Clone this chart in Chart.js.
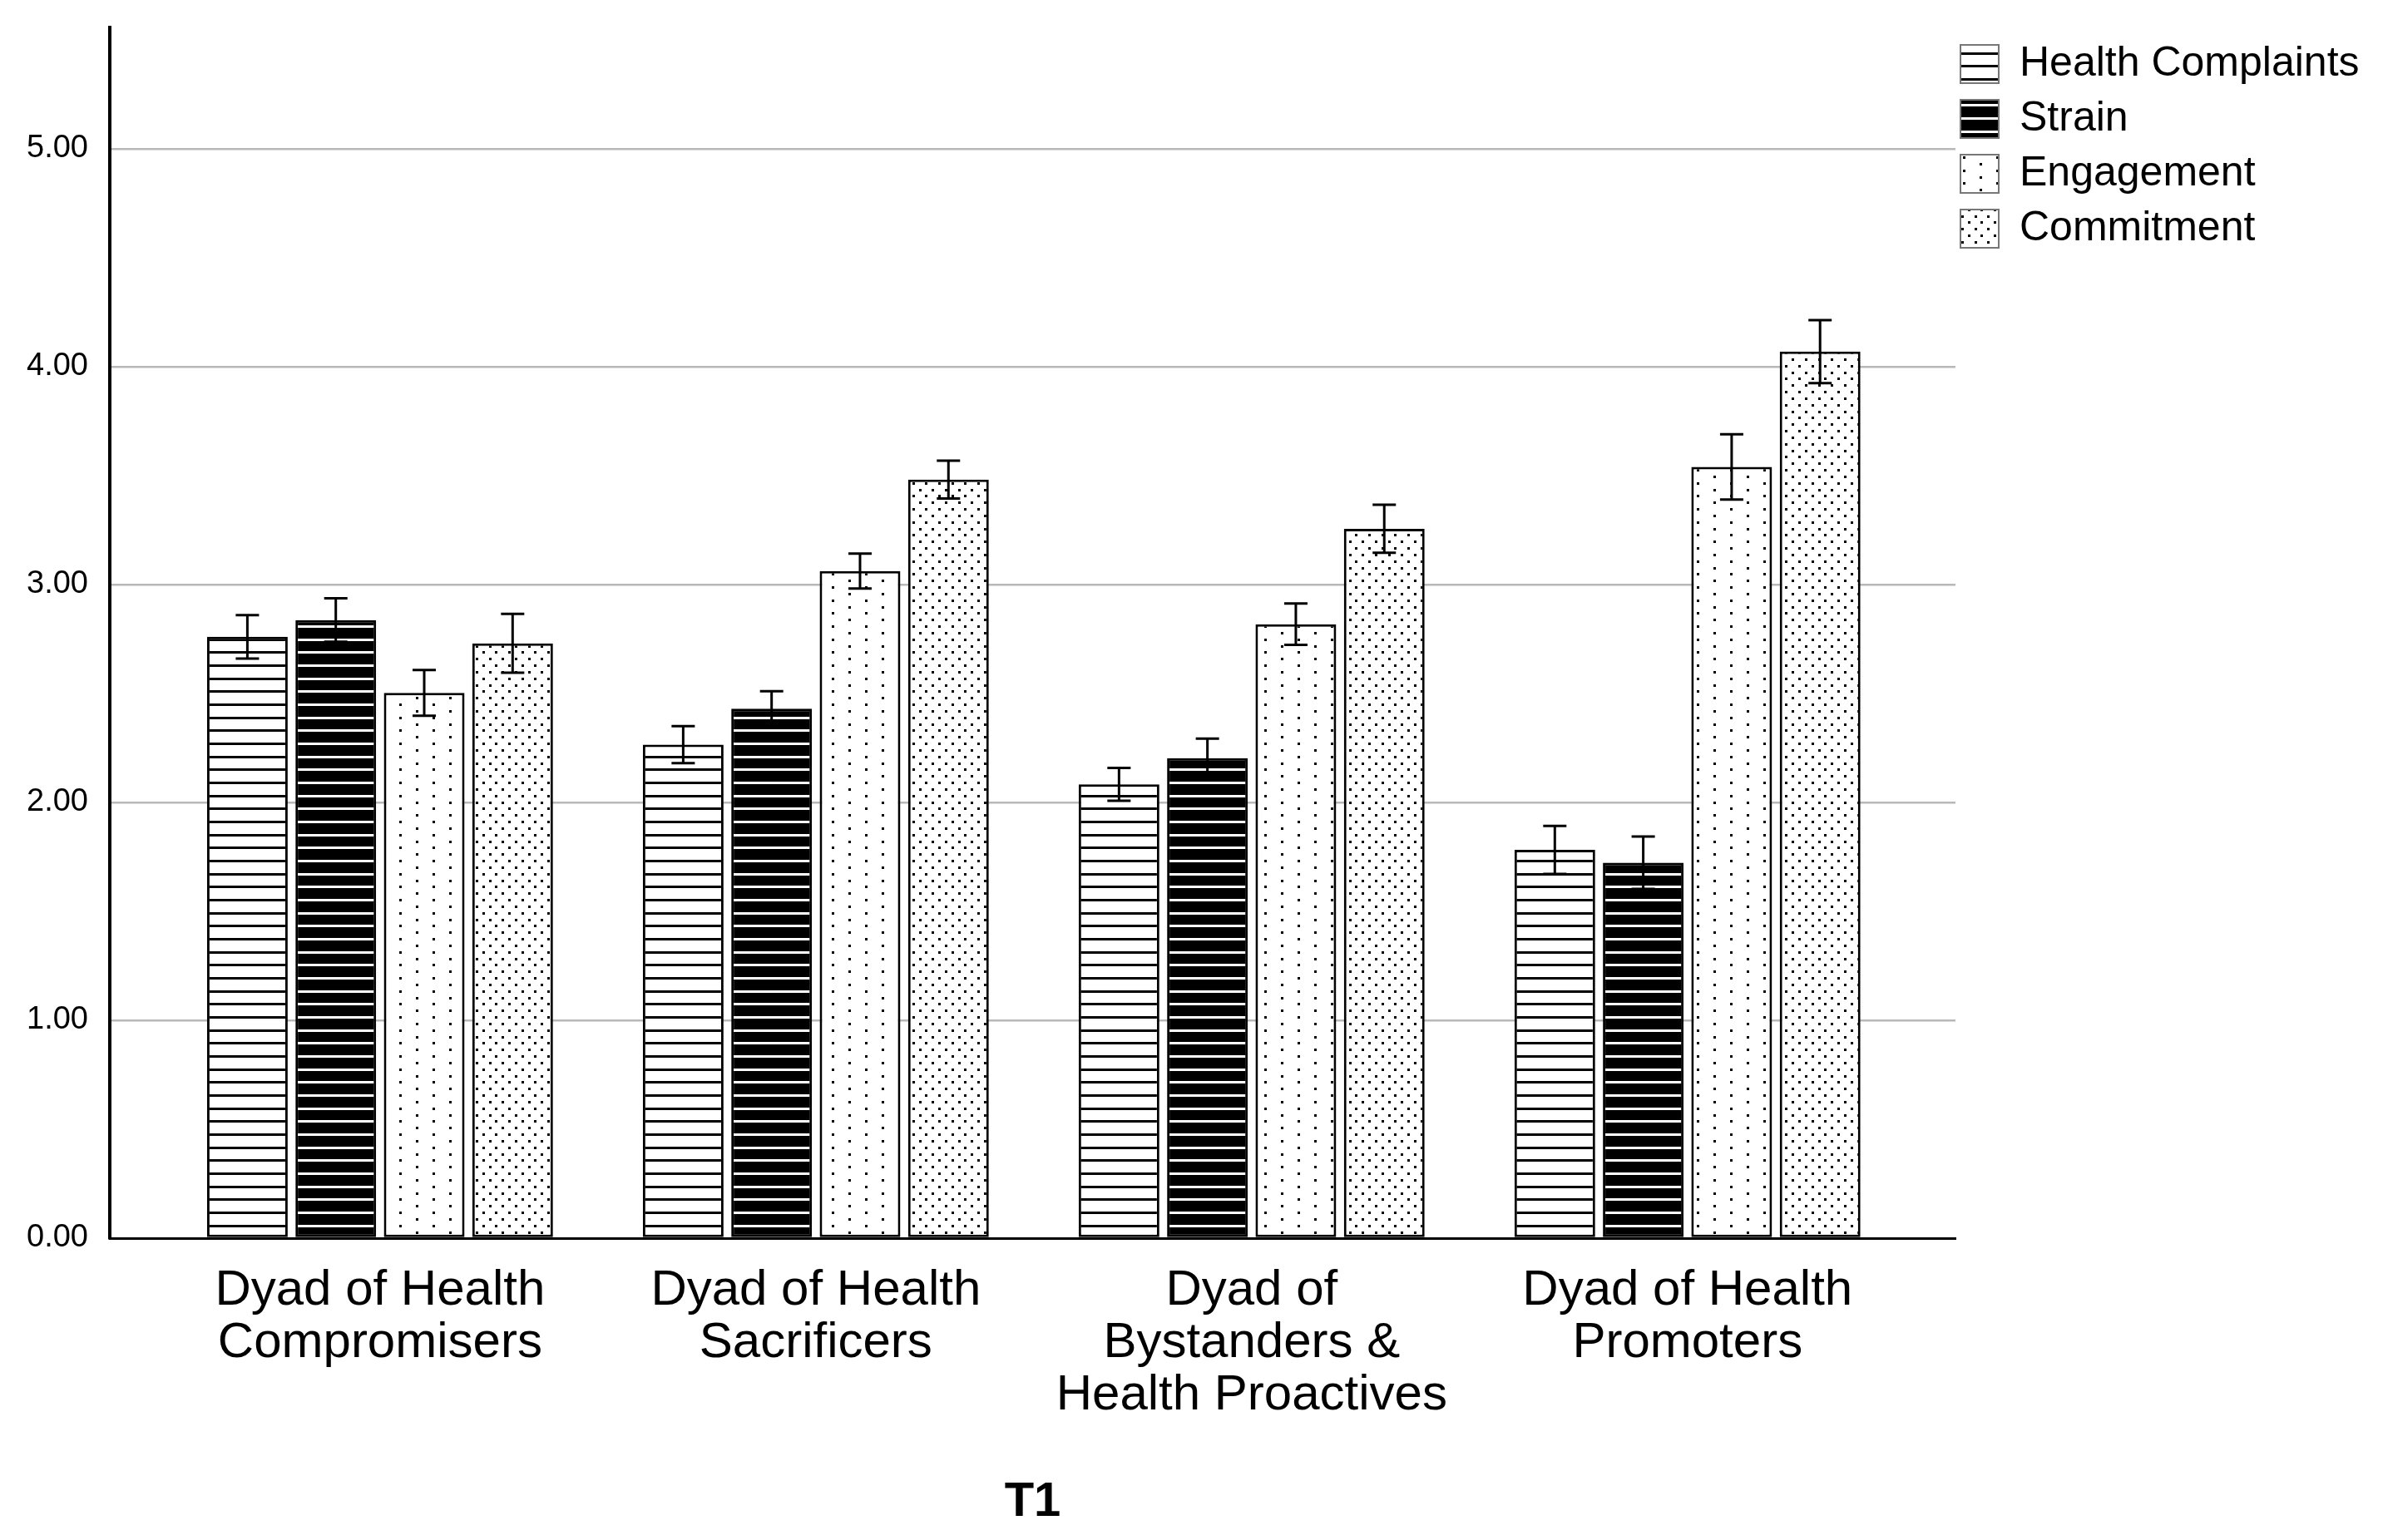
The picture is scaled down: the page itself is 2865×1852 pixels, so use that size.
<!DOCTYPE html>
<html>
<head>
<meta charset="utf-8">
<script src="https://cdn.jsdelivr.net/npm/chart.js@4.4.1/dist/chart.umd.min.js"></script>
<style>
html, body { margin: 0; padding: 0; background: #fff; }
#wrap { width: 2865px; height: 1852px; }
</style>
</head>
<body>
<div id="wrap"><canvas id="chart" width="2865" height="1852"></canvas></div>
<script>
// categories (multi-line tick labels)
const groups = [
	["Dyad of Health", "Compromisers"],
	["Dyad of Health", "Sacrificers"],
	["Dyad of", "Bystanders &", "Health Proactives"],
	["Dyad of Health", "Promoters"]
];
const seriesNames = ["Health Complaints", "Strain", "Engagement", "Commitment"];

// means
const healthComplaints = [2.76, 2.265, 2.083, 1.782];
const strain = [2.837, 2.43, 2.203, 1.723];
const engagement = [2.503, 3.062, 2.818, 3.54];
const commitment = [2.73, 3.482, 3.256, 4.069];

// error bar half widths
const healthComplaintsErr = [0.10, 0.085, 0.075, 0.11];
const strainErr = [0.10, 0.08, 0.09, 0.12];
const engagementErr = [0.105, 0.08, 0.095, 0.15];
const commitmentErr = [0.135, 0.087, 0.11, 0.145];

const yTicks = [0, 1, 2, 3, 4, 5];
const axisTitle = "T1";

Chart.defaults.font.family = "'Liberation Sans', Arial, sans-serif";
Chart.defaults.color = "#000";

function makeTile(w, h, bg, fg, paint)
{
	let c = document.createElement("canvas");
	c.width = w;
	c.height = h;
	let g = c.getContext("2d");
	g.fillStyle = bg;
	g.fillRect(0, 0, w, h);
	g.fillStyle = fg;
	paint(g);
	return document.getElementById("chart").getContext("2d").createPattern(c, "repeat");
}

const step = 47 / 6;
const hLines = (g) => { for(let k = 0; k < 3; k++) g.fillRect(0, Math.round(k * 2 * step), 47, 3); };
const patHealth = makeTile(47, 47, "#fff", "#000", hLines);
const patStrain = makeTile(47, 47, "#000", "#fff", hLines);
const patEngage = makeTile(40, 47, "#fff", "#000", (g) => {
	for(let k = 0; k < 6; k++)
		g.fillRect(k % 2 ? 20 : 0, Math.round(k * step), 3, 3);
});
const patCommit = makeTile(47, 47, "#fff", "#000", (g) => {
	for(let i = 0; i < 6; i++)
		for(let j = 0; j < 6; j++)
			if((i + j) % 2 == 0)
				g.fillRect(Math.round(i * step), Math.round(j * step), 3, 3);
});

function series(label, values, errors, fill)
{
	return {
		label: label,
		data: values.map((v, i) => ({ x: i, y: v })),
		errors: errors,
		backgroundColor: fill,
		borderColor: "#000",
		borderWidth: 3,
		borderSkipped: false,
		categoryPercentage: 0.8115,
		barPercentage: 0.9125
	};
}

const errorBars = {
	id: "errorBars",
	afterDatasetsDraw(chart)
	{
		const ctx = chart.ctx;
		const y = chart.scales.y;
		ctx.save();
		ctx.strokeStyle = "#000";
		ctx.lineWidth = 3;
		chart.data.datasets.forEach((ds, i) => {
			chart.getDatasetMeta(i).data.forEach((bar, j) => {
				const v = ds.data[j].y;
				const top = y.getPixelForValue(v + ds.errors[j]);
				const bot = y.getPixelForValue(v - ds.errors[j]);
				ctx.beginPath();
				ctx.moveTo(bar.x, top); ctx.lineTo(bar.x, bot);
				ctx.moveTo(bar.x - 14, top); ctx.lineTo(bar.x + 14, top);
				ctx.moveTo(bar.x - 14, bot); ctx.lineTo(bar.x + 14, bot);
				ctx.stroke();
			});
		});
		ctx.restore();
	}
};

// keep the legend out of the plot width and place it like the original
const legendPlace = {
	id: "legendPlace",
	beforeLayout(chart)
	{
		const lg = chart.legend;
		if(lg && !lg._fixedWidth)
		{
			const fit = lg.fit;
			lg.fit = function() { fit.call(this); this.width = 514; };
			lg._fixedWidth = true;
		}
	},
	afterLayout(chart)
	{
		const lg = chart.legend;
		const pad = lg.options.labels.padding;
		lg.left = chart.chartArea.right + 6 - pad;
		lg.top = 52 - pad;
	}
};

new Chart(document.getElementById("chart").getContext("2d"),
{
	type: "bar",
	data:
	{
		datasets:
		[
			series(seriesNames[0], healthComplaints, healthComplaintsErr, patHealth),
			series(seriesNames[1], strain, strainErr, patStrain),
			series(seriesNames[2], engagement, engagementErr, patEngage),
			series(seriesNames[3], commitment, commitmentErr, patCommit)
		]
	},
	options:
	{
		responsive: false,
		devicePixelRatio: 1,
		animation: false,
		layout: { padding: { top: 33, left: 0, right: 0, bottom: 0 } },
		plugins:
		{
			tooltip: { enabled: false },
			legend:
			{
				position: "right",
				align: "start",
				labels:
				{
					boxWidth: 46,
					boxHeight: 46,
					padding: 16,
					color: "#000",
					font: { size: 50 },
					generateLabels: (chart) =>
						Chart.defaults.plugins.legend.labels.generateLabels(chart).map((it) => {
							it.lineWidth = 2;
							it.strokeStyle = "#777";
							return it;
						})
				}
			}
		},
		scales:
		{
			x:
			{
				type: "linear",
				min: -0.62,
				max: 3.615,
				offset: false,
				afterBuildTicks: (s) => { s.ticks = groups.map((g, i) => ({ value: i })); },
				afterFit: (s) => { s.height = 363; s.paddingLeft = 0; s.paddingRight = 0; },
				ticks:
				{
					autoSkip: false,
					maxRotation: 0,
					padding: 32,
					color: "#000",
					font: { size: 60, lineHeight: 1.05 },
					callback: (v) => groups[v]
				},
				grid: { display: false, drawTicks: false, offset: false },
				border: { color: "#000", width: 3 },
				title:
				{
					display: true,
					text: axisTitle,
					color: "#000",
					font: { size: 58, weight: "bold", lineHeight: 1.2 },
					padding: { top: 36, bottom: 10 }
				}
			},
			y:
			{
				min: 0,
				max: 5.557,
				afterBuildTicks: (s) => { s.ticks = yTicks.map((v) => ({ value: v })); },
				afterFit: (s) => { s.width = 132; s.paddingTop = 0; s.paddingBottom = 0; },
				ticks:
				{
					color: "#000",
					padding: 26,
					font: { size: 38 },
					callback: (v) => v.toFixed(2)
				},
				grid: { color: "#b8b8b8", lineWidth: 2.5, drawTicks: false },
				border: { color: "#000", width: 4 }
			}
		}
	},
	plugins: [errorBars, legendPlace]
});
</script>
</body>
</html>
